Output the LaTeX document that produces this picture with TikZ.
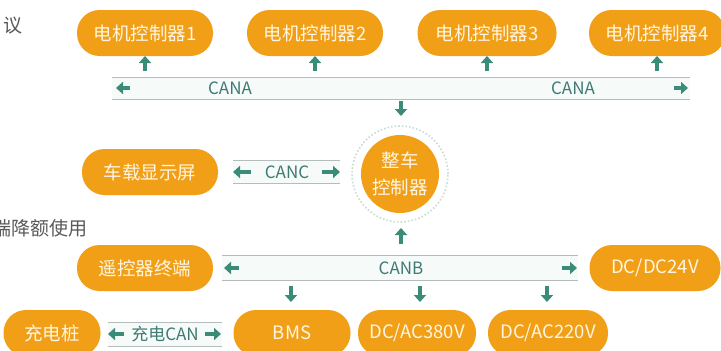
\documentclass[tikz,border=0pt]{standalone}
\usepackage{fontspec}
\setmainfont{Noto Sans CJK SC}
\usetikzlibrary{arrows.meta}
\definecolor{pillor}{HTML}{F29F18}
\definecolor{pilltxt}{HTML}{FFF6E2}
\definecolor{gr}{HTML}{3A8C78}
\definecolor{bustxt}{HTML}{3F7A72}
\definecolor{busline}{HTML}{B4BDBB}
\definecolor{busfill}{HTML}{F6FBFA}
\definecolor{ring}{HTML}{C9DCD6}
\tikzset{
  pill/.style={draw=none, fill=pillor, text=pilltxt, rounded corners=22.5pt,
    minimum height=46pt, inner sep=0pt, font=\fontsize{18.5}{20}\selectfont},
  buslbl/.style={text=bustxt, font=\fontsize{17}{19}\selectfont, inner sep=0pt},
  busline/.style={draw=busline, line width=1pt},
  garrow/.style={draw=gr, line width=4.5pt, -{Triangle[width=12pt,length=7pt]}},
  side/.style={text=black!65, font=\fontsize{19}{21}\selectfont, inner sep=0pt, anchor=west}
}
\newcommand{\busbar}[4]{% x1 x2 ytop ybot
  \fill[busfill] (#1,#3) rectangle (#2,#4);
  \draw[busline] (#1,#3) -- (#2,#3);
  \draw[busline] (#1,#4) -- (#2,#4);
}
\begin{document}
\begin{tikzpicture}[x=1pt,y=-1pt]
\useasboundingbox (0,0) rectangle (721,351);
\clip (0,0) rectangle (721,351);
\fill[white] (0,0) rectangle (721,351);

% side texts
\node[side] (t1) at (3,26) {议};
\node[side] (t2) at (-8,228) {端降额使用};

% top motor controllers
\node[pill, minimum width=136pt] (m1) at (145,33) {电机控制器1};
\node[pill, minimum width=136pt] (m2) at (315,33) {电机控制器2};
\node[pill, minimum width=139pt] (m3) at (487,33) {电机控制器3};
\node[pill, minimum width=136pt] (m4) at (657,33) {电机控制器4};

% CANA bus
\busbar{112}{690}{77}{99}
\node[buslbl] (cana1) at (230,88) {CANA};
\node[buslbl] (cana2) at (573,88) {CANA};
\coordinate (aL1) at (130,88); \coordinate (aL2) at (116,88);
\coordinate (aR1) at (674,88); \coordinate (aR2) at (688,88);
\draw[garrow] (aL1) -- (aL2);
\draw[garrow] (aR1) -- (aR2);
\foreach \x/\n in {145/m1,315/m2,487/m3,657/m4}{
  \draw[garrow] (\x,71) -- (\n.south |- 0,56);
}
\draw[garrow] (401,101) -- (401,116);

% VCU
\node[circle, draw=ring, dotted, line width=1.6pt, minimum size=96pt] (ring) at (400,174) {};
\node[circle, fill=pillor, text=pilltxt, minimum size=78pt, inner sep=0pt, align=center,
  font=\fontsize{18.5}{27}\selectfont] (vcu) at (400,174) {整车\\控制器};

% display + CANC
\node[pill, minimum width=136pt] (disp) at (150,172) {车载显示屏};
\busbar{233}{340}{160}{183}
\node[buslbl] (canc) at (287,172) {CANC};
\draw[garrow] (251,172) -- (233,172);
\draw[garrow] (322,172) -- (340,172);

% CANB
\coordinate (vb) at (401,244);
\coordinate (vt) at (401,228);
\draw[garrow] (vb) -- (vt);
\node[pill, minimum width=136pt] (rc) at (145,268) {遥控器终端};
\node[pill, minimum width=131pt] (dcdc) at (655,268) {DC/DC24V};
\busbar{222}{578}{255}{280}
\node[buslbl] (canb) at (401,268) {CANB};
\draw[garrow] (239,268) -- (224,268);
\draw[garrow] (562,268) -- (577,268);
\draw[garrow] (291,286) -- (291,302);
\draw[garrow] (420,286) -- (420,302);
\draw[garrow] (547,286) -- (547,302);

% bottom row
\node[pill, minimum width=97pt] (chg) at (52,333) {充电桩};
\node[pill, minimum width=117pt] (bms) at (292,333) {BMS};
\node[pill, minimum width=118pt] (ac380) at (417,333) {DC/AC380V};
\node[pill, minimum width=120pt] (ac220) at (548,333) {DC/AC220V};
\busbar{108}{222}{322}{346}
\node[buslbl] (ccan) at (165,334) {充电CAN};
\draw[garrow] (124,334) -- (108,334);
\draw[garrow] (205,334) -- (221,334);
\end{tikzpicture}
\end{document}
